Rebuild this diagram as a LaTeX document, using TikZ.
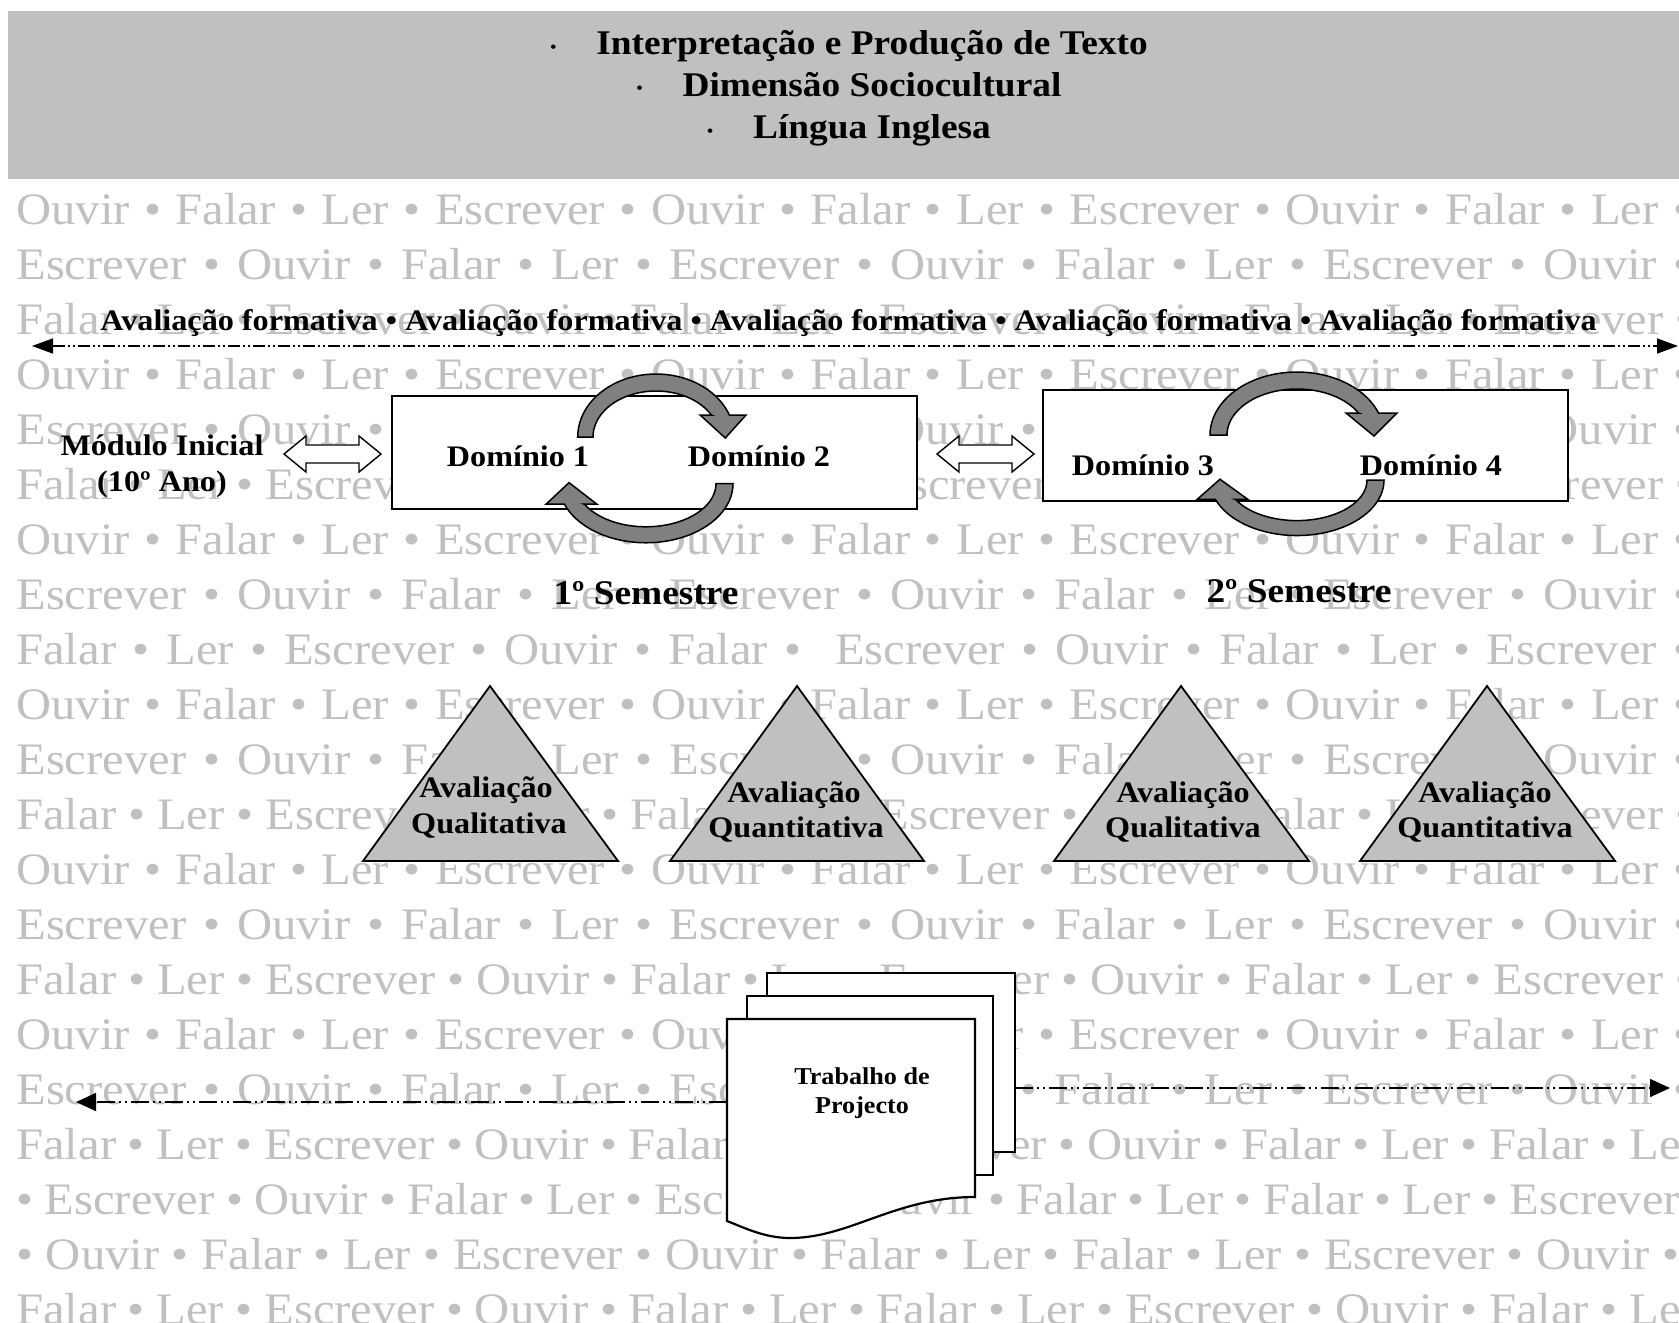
\documentclass[tikz,border=0pt]{standalone}
\usepackage{fontspec}
\setmainfont{Liberation Serif}[FakeStretch=1.08]
\usetikzlibrary{arrows.meta}
\definecolor{bggray}{RGB}{192,192,192}
\definecolor{hdrgray}{RGB}{192,192,192}
\definecolor{arrgray}{RGB}{128,128,128}
\newcommand\bgfont{\fontsize{22.5pt}{26pt}\selectfont}
\newcommand\lblfont{\bfseries\fontsize{14.9pt}{17pt}\selectfont}
\newcommand\ttlfont{\bfseries\fontsize{17.3pt}{20pt}\selectfont}
\newcommand\docfont{\bfseries\fontsize{12.1pt}{14pt}\selectfont}
\newcommand\tbul{\makebox[23pt][l]{\fontsize{8pt}{8pt}\selectfont\raisebox{1.5pt}{•}}}
\newcommand\bgrow[4]{\node[bgtext] (#1) at (16,#2) {\spaceskip=#3pt\relax #4};}
\newcommand\rowA{Ouvir • Falar • Ler • Escrever • Ouvir • Falar • Ler • Escrever • Ouvir • Falar • Ler • Escrever}
\newcommand\rowB{Escrever • Ouvir • Falar • Ler • Escrever • Ouvir • Falar • Ler • Escrever • Ouvir • Falar}
\newcommand\rowC{Falar • Ler • Escrever • Ouvir • Falar • Ler • Escrever • Ouvir • Falar • Ler • Escrever • Ouvir}
\tikzset{
  circarr/.pic={
    \filldraw[fill=arrgray, draw=black, line width=0.75pt, line join=miter]
      plot[domain=180:20.4, samples=40] ({87*cos(\x)},{-24-63*sin(\x)})
      -- (100,-46) -- (77,-23) -- (49,-46) -- (61.5,-46)
      -- plot[domain=28.6:180, samples=40] ({70*cos(\x)},{-24-46*sin(\x)})
      -- cycle;
  }
}
\begin{document}
\begin{tikzpicture}[x=0.5pt,y=-0.5pt,
  bgtext/.style={anchor=base west, inner sep=0pt, text=bggray, font=\bgfont},
  lbl/.style={anchor=base, inner sep=0pt, font=\lblfont},
  ttl/.style={anchor=base, inner sep=0pt, font=\ttlfont},
  doctext/.style={anchor=base, inner sep=0pt, font=\docfont},
  boxline/.style={draw=black, line width=0.8pt, fill=white, inner sep=0pt},
  tri/.style={draw=black, line width=0.9pt, fill=hdrgray, line join=miter},
  page/.style={draw=black, line width=1.1pt, fill=white},
  dblarr/.style={draw=black, line width=0.7pt, fill=white, line join=miter},
  dashA/.style={line width=0.75pt, dash pattern=on 6pt off 1.5pt on 1pt off 1.5pt on 1pt off 1.5pt},
  dashB/.style={line width=0.75pt, dash pattern=on 9pt off 2pt on 1pt off 2pt on 1pt off 2pt},
]
\useasboundingbox (0,0) rectangle (1679,1322);
\clip (0,0) rectangle (1679,1322);
\fill[white] (0,0) rectangle (1679,1322);
% header
\fill[hdrgray] (8,11) rectangle (1679,179);
\node[ttl] (t1) at (849,55) {\tbul Interpretação e Produção de Texto};
\node[ttl] (t2) at (849,97) {\tbul Dimensão Sociocultural};
\node[ttl] (t3) at (849,139) {\tbul Língua Inglesa};
% background rows
\bgrow{r1}{224}{7.25}{\rowA}
\bgrow{r2}{279}{8.41}{\rowB}
\bgrow{r3}{334}{5.96}{\rowC}
\bgrow{r4}{389}{7.25}{\rowA}
\bgrow{r5}{444}{8.41}{\rowB}
\bgrow{r6}{499}{5.96}{\rowC}
\bgrow{r7}{554}{7.25}{\rowA}
\bgrow{r8}{609}{8.41}{\rowB}
\bgrow{r9}{664}{8.32}{Falar • Ler • Escrever • Ouvir • Falar • \ Escrever • Ouvir • Falar • Ler • Escrever • Ouvir}
\bgrow{r10}{719}{7.25}{\rowA}
\bgrow{r11}{774}{8.41}{\rowB}
\bgrow{r12}{829}{5.96}{\rowC}
\bgrow{r13}{884}{7.25}{\rowA}
\bgrow{r14}{939}{8.41}{\rowB}
\bgrow{r15}{994}{5.96}{\rowC}
\bgrow{r16}{1049}{7.25}{\rowA}
\bgrow{r17}{1104}{8.41}{\rowB}
\bgrow{r18}{1159}{5.85}{Falar • Ler • Escrever • Ouvir • Falar • Ler • Escrever • Ouvir • Falar • Ler • Falar • Ler • Escrever}
\bgrow{r19}{1214}{5.66}{• Escrever • Ouvir • Falar • Ler • Escrever • Ouvir • Falar • Ler • Falar • Ler • Escrever • Ouvir}
\bgrow{r20}{1269}{6.29}{• Ouvir • Falar • Ler • Escrever • Ouvir • Falar • Ler • Falar • Ler • Escrever • Ouvir • Falar}
\bgrow{r21}{1324}{5.85}{Falar • Ler • Escrever • Ouvir • Falar • Ler • Falar • Ler • Escrever • Ouvir • Falar • Ler • Escrever}
% formative assessment line
\node[lbl] (af) at (848.6,330) {Avaliação formativa • Avaliação formativa • Avaliação formativa • Avaliação formativa • Avaliação formativa};
\coordinate (fl) at (32,346);
\coordinate (fr) at (1678,346);
\draw[dashA, {Triangle[length=10.5pt,width=7.5pt]}-{Triangle[length=10.5pt,width=7.5pt]}] (fl) -- (fr);
% modulo inicial
\node[lbl] (mi1) at (162,455) {Módulo Inicial};
\node[lbl] (mi2) at (162,491) {(10º Ano)};
\draw[dblarr] (284,454) -- (306,436) -- (306,445) -- (359,445) -- (359,436) -- (381,454) -- (359,472) -- (359,463) -- (306,463) -- (306,472) -- cycle;
\draw[dblarr] (937,454) -- (959,436) -- (959,445) -- (1012,445) -- (1012,436) -- (1034,454) -- (1012,472) -- (1012,463) -- (959,463) -- (959,472) -- cycle;
% boxes
\node[boxline, minimum width=262.5pt, minimum height=56.5pt] (box1) at (654.5,452.5) {};
\node[boxline, minimum width=262.5pt, minimum height=55.5pt] (box2) at (1305.5,445.5) {};
\pic[xscale=0.9] at (656,461) {circarr};
\pic[rotate=180, yscale=0.94] at (646,461) {circarr};
\pic at (1297,459) {circarr};
\pic[rotate=180, yscale=0.88] at (1297,459) {circarr};
\node[lbl] (d1) at (518,466) {Domínio 1};
\node[lbl] (d2) at (759,466) {Domínio 2};
\node[lbl] (d3) at (1143,475) {Domínio 3};
\node[lbl] (d4) at (1431,475) {Domínio 4};
% semesters
\node[ttl] (s1) at (646,604) {1º Semestre};
\node[ttl] (s2) at (1299,602) {2º Semestre};
% triangles
\draw[tri] (490,686) -- (618,861) -- (363,861) -- cycle;
\draw[tri] (797,686) -- (924,861) -- (670,861) -- cycle;
\draw[tri] (1181,686) -- (1309,861) -- (1054,861) -- cycle;
\draw[tri] (1487,686) -- (1615,861) -- (1360,861) -- cycle;
\node[lbl] (q1a) at (486,797) {Avaliação};
\node[lbl] (q1b) at (489,833) {Qualitativa};
\node[lbl] (q2a) at (794,802) {Avaliação};
\node[lbl] (q2b) at (796,837) {Quantitativa};
\node[lbl] (q3a) at (1183,802) {Avaliação};
\node[lbl] (q3b) at (1183,837) {Qualitativa};
\node[lbl] (q4a) at (1485,802) {Avaliação};
\node[lbl] (q4b) at (1485,837) {Quantitativa};
% project documents
\draw[page] (767,973) rectangle (1015,1152);
\draw[page] (747,996) rectangle (993,1175);
\draw[page] (727,1019) -- (975,1019) -- (975,1197) .. controls (895,1197) and (850,1238) .. (790,1238) .. controls (765,1238) and (745,1228) .. (727,1221) -- cycle;
\node[doctext] (p1) at (862,1084) {Trabalho de};
\node[doctext] (p2) at (862,1113) {Projecto};
\coordinate (docL) at (727,1102);
\coordinate (bl) at (76,1102);
\coordinate (docR) at (1015,1088);
\coordinate (br) at (1670,1088);
\draw[dashB, -{Triangle[length=10pt,width=9pt]}] (docL) -- (bl);
\draw[dashB, -{Triangle[length=10pt,width=9pt]}] (docR) -- (br);
\end{tikzpicture}
\end{document}
